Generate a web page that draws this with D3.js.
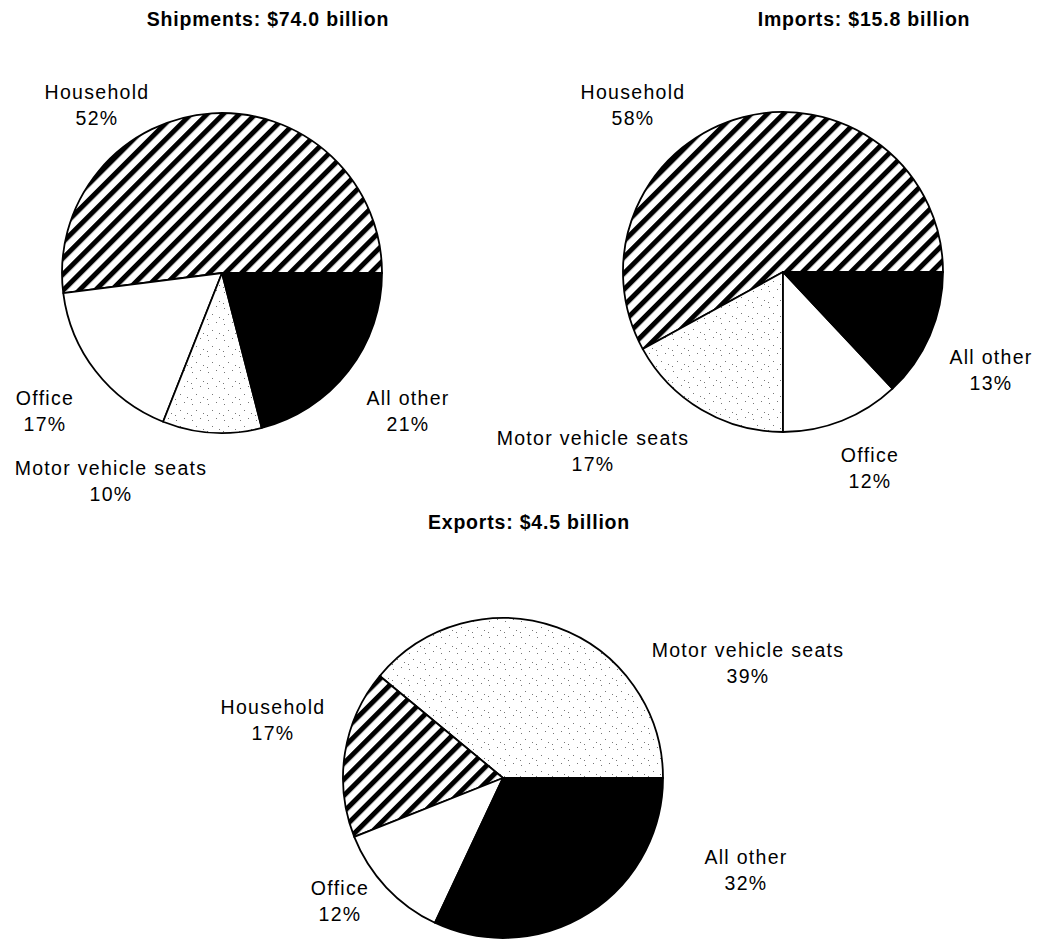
<!DOCTYPE html>
<html>
<head>
<meta charset="utf-8">
<script src="https://cdn.jsdelivr.net/npm/d3@7"></script>
<style>
body { margin: 0; background: #fff; }
svg { display: block; }
text { font-family: "Liberation Sans", Arial, sans-serif; fill: #000; }
.title { font-size: 19.5px; font-weight: bold; letter-spacing: 0.8px; }
.lbl { font-size: 19.5px; letter-spacing: 1.3px; }
</style>
</head>
<body>
<svg width="1042" height="951"></svg>
<script>
// chart values
var titles = ['Shipments: $74.0 billion', 'Imports: $15.8 billion', 'Exports: $4.5 billion'];
var shipmentsCats = ['Household', 'Office', 'Motor vehicle seats', 'All other'];
var shipmentsShare = [52, 17, 10, 21];
var importsCats = ['Household', 'Motor vehicle seats', 'Office', 'All other'];
var importsShare = [58, 17, 12, 13];
var exportsCats = ['Motor vehicle seats', 'Household', 'Office', 'All other'];
var exportsShare = [39, 17, 12, 32];

// layout only
var R = 160;
var layout = [
	{ cx: 222, cy: 273, tx: 268, ty: 26,
	  lab: [[-125, -181], [-177, 125], [-111, 195], [186, 125]] },
	{ cx: 783, cy: 272, tx: 864, ty: 26,
	  lab: [[-150, -180], [-190, 166], [87, 183], [208, 85]] },
	{ cx: 503, cy: 778, tx: 529, ty: 529,
	  lab: [[245, -128], [-230, -71], [-163, 110], [243, 79]] }
];

var svg = d3.select('svg');
var defs = svg.append('defs');

// diagonal hatch for Household
var hp = 11.4;
var hatch = defs.append('pattern').attr('id', 'hatch').attr('patternUnits', 'userSpaceOnUse')
	.attr('width', hp).attr('height', hp).attr('patternTransform', 'rotate(45)');
hatch.append('rect').attr('width', hp).attr('height', hp).attr('fill', '#fff');
hatch.append('rect').attr('x', 0).attr('width', 5).attr('height', hp).attr('fill', '#000');

// light stipple for Motor vehicle seats
var dots = defs.append('pattern').attr('id', 'dots').attr('patternUnits', 'userSpaceOnUse')
	.attr('width', 16).attr('height', 16);
dots.append('rect').attr('width', 16).attr('height', 16).attr('fill', '#fff');
[[2, 3], [10, 1], [6, 9], [13, 12], [1, 14]].forEach(function(p) {
	dots.append('rect').attr('x', p[0]).attr('y', p[1]).attr('width', 1).attr('height', 1).attr('fill', '#777');
});

function fillFor(cat)
{
	if (cat === 'Household') return 'url(#hatch)';
	if (cat === 'Motor vehicle seats') return 'url(#dots)';
	if (cat === 'All other') return '#000';
	return '#fff';
}

// start at 3 o'clock, run counterclockwise
var pie = d3.pie().sort(null).startAngle(Math.PI / 2).endAngle(Math.PI / 2 - 2 * Math.PI);
var arc = d3.arc().innerRadius(0).outerRadius(R);

function drawPie(idx, cats, share)
{
	var L = layout[idx];
	var rows = cats.map(function(c, i) { return { cat: c, v: share[i], off: L.lab[i] }; });
	var g = svg.append('g').attr('transform', 'translate(' + L.cx + ',' + L.cy + ')');

	g.selectAll('path.slice').data(pie.value(function(d) { return d.v; })(rows)).enter()
		.append('path').attr('class', 'slice')
		.attr('d', arc)
		.attr('fill', function(d) { return fillFor(d.data.cat); })
		.attr('stroke', '#000').attr('stroke-width', 1.8).attr('stroke-linejoin', 'round');

	var lbl = g.selectAll('text.lbl').data(rows).enter().append('text').attr('class', 'lbl')
		.attr('text-anchor', 'middle')
		.attr('x', function(d) { return d.off[0]; })
		.attr('y', function(d) { return d.off[1] + 7; });
	lbl.append('tspan').text(function(d) { return d.cat; });
	lbl.append('tspan').attr('x', function(d) { return d.off[0]; }).attr('dy', 26)
		.text(function(d) { return d.v + '%'; });

	svg.append('text').attr('class', 'title').attr('text-anchor', 'middle')
		.attr('x', L.tx).attr('y', L.ty).text(titles[idx]);
}

drawPie(0, shipmentsCats, shipmentsShare);
drawPie(1, importsCats, importsShare);
drawPie(2, exportsCats, exportsShare);
</script>
</body>
</html>
